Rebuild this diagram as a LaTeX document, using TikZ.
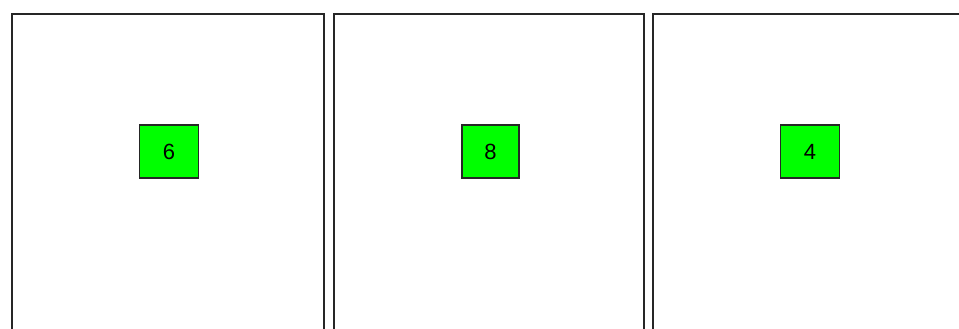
\documentclass[tikz,border=0pt]{standalone}
\usepackage{fontspec}
\setmainfont{Liberation Sans}
\begin{document}
\begin{tikzpicture}[x=1pt,y=-1pt,
  panel/.style={draw=black!85,line width=1.4pt,fill=white},
  numbox/.style={draw=black!85,line width=1.2pt,fill=green,minimum width=59pt,minimum height=53pt,inner sep=0pt,font=\fontsize{22}{24}\selectfont}]
\useasboundingbox (0,0) rectangle (959,329);
\clip (0,0) rectangle (959,329);
\fill[white] (0,0) rectangle (959,329);
\draw[panel] (12,14) rectangle (324,340);
\draw[panel] (334,14) rectangle (644,340);
\draw[panel] (653,14) rectangle (980,340);
\node[numbox] (a) at (169,151.5) {6};
\node[numbox,minimum width=57pt] (b) at (490.5,151.5) {8};
\node[numbox] (c) at (810,151.5) {4};
\end{tikzpicture}
\end{document}
